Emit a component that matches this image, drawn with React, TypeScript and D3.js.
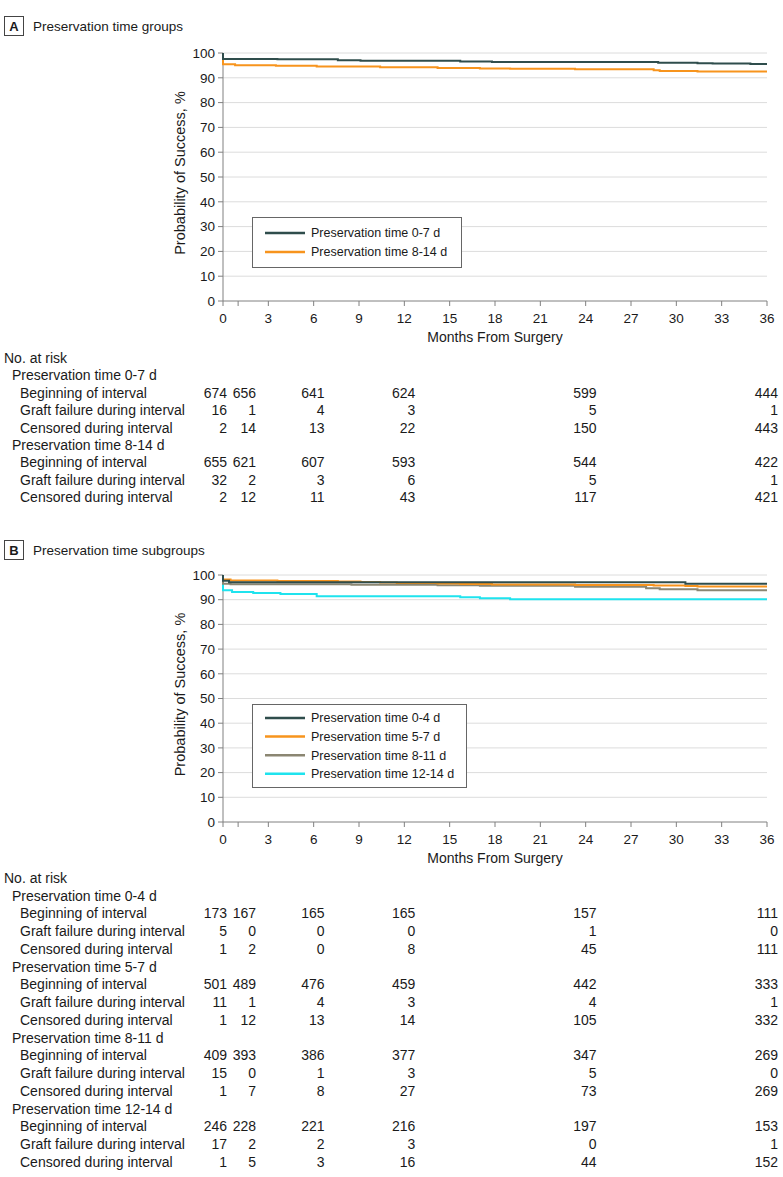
import React from 'react';
import * as d3 from 'd3';

// ---------- data ----------
const xTickValues = [0, 3, 6, 9, 12, 15, 18, 21, 24, 27, 30, 33, 36];
const xMinorTickValues = [1];
const yTickValues = [0, 10, 20, 30, 40, 50, 60, 70, 80, 90, 100];
const riskMonths = [0, 1, 6, 12, 24, 36];
const riskRowLabels = ['Beginning of interval', 'Graft failure during interval', 'Censored during interval'];

// Panel A: Kaplan-Meier steps (months, % success)
const a07Times = [0, 0, 3.6, 7.6, 9.1, 15.7, 17.8, 28.8, 31.4, 32.4, 34.9];
const a07Surv = [100, 97.6, 97.45, 97.1, 96.85, 96.6, 96.35, 96.1, 95.9, 95.75, 95.55];
const a814Times = [0, 0, 0.8, 3.5, 6.2, 10.4, 14.2, 17.0, 19.0, 23.3, 28.5, 28.9, 31.4];
const a814Surv = [100, 95.5, 95.1, 94.85, 94.6, 94.3, 94.0, 93.8, 93.6, 93.4, 93.0, 92.75, 92.5];

// Panel B
const b04Times = [0, 0, 0.4, 30.6];
const b04Surv = [100, 97.7, 97.1, 96.5];
const b57Times = [0, 0, 0.5, 3.6, 7.6, 9.1, 10.4, 11.5, 14.2, 15.7, 17.8, 23.3, 28.5, 30.6, 31.4];
const b57Surv = [100, 98.2, 97.8, 97.6, 97.4, 97.2, 97.0, 96.8, 96.6, 96.4, 96.2, 96.0, 95.7, 95.5, 95.3];
const b811Times = [0, 0, 0.5, 8.5, 14.2, 17.0, 23.3, 28.0, 28.9, 31.4];
const b811Surv = [100, 96.5, 96.3, 96.1, 95.8, 95.6, 95.2, 94.6, 94.2, 93.8];
const b1214Times = [0, 0, 0.6, 2.0, 3.8, 6.2, 15.7, 17.0, 19.0];
const b1214Surv = [100, 93.8, 93.1, 92.7, 92.3, 91.4, 91.0, 90.6, 90.2];

// Risk tables
const a07Begin = [674, 656, 641, 624, 599, 444];
const a07Fail = [16, 1, 4, 3, 5, 1];
const a07Cens = [2, 14, 13, 22, 150, 443];
const a814Begin = [655, 621, 607, 593, 544, 422];
const a814Fail = [32, 2, 3, 6, 5, 1];
const a814Cens = [2, 12, 11, 43, 117, 421];

const b04Begin = [173, 167, 165, 165, 157, 111];
const b04Fail = [5, 0, 0, 0, 1, 0];
const b04Cens = [1, 2, 0, 8, 45, 111];
const b57Begin = [501, 489, 476, 459, 442, 333];
const b57Fail = [11, 1, 4, 3, 4, 1];
const b57Cens = [1, 12, 13, 14, 105, 332];
const b811Begin = [409, 393, 386, 377, 347, 269];
const b811Fail = [15, 0, 1, 3, 5, 0];
const b811Cens = [1, 7, 8, 27, 73, 269];
const b1214Begin = [246, 228, 221, 216, 197, 153];
const b1214Fail = [17, 2, 2, 3, 0, 1];
const b1214Cens = [1, 5, 3, 16, 44, 152];

// ---------- styles ----------
const FONT = '"Liberation Sans", Arial, sans-serif';
const C_DARK = '#2f4d4c';
const C_ORANGE = '#f7941d';
const C_GREY = '#8b8672';
const C_CYAN = '#1fe3ee';
const AXIS = '#808080';
const GRID = '#dcdcdc';
const TEXT = '#1a1a1a';

type Series = { label: string; color: string; times: number[]; surv: number[] };
type RiskGroup = { label: string; rows: number[][] };

const x = d3.scaleLinear().domain([0, 36]).range([223, 767]);
const colOffsets = [4, 18, 11, 11, 11, 11];

function Panel(props: {
  letter: string;
  title: string;
  titleY: number;
  top: number;
  bottom: number;
  series: Series[];
  legend: { x: number; y: number; w: number; h: number; rowY0: number; rowStep: number };
  risk: RiskGroup[];
  riskY0: number;
  riskStep: number;
}) {
  const { letter, title, titleY, top, bottom, series, legend, risk, riskY0, riskStep } = props;
  const y = d3.scaleLinear().domain([0, 100]).range([bottom, top]);
  const line = d3
    .line<[number, number]>()
    .x((d) => x(d[0]))
    .y((d) => y(d[1]))
    .curve(d3.curveStepAfter);

  const rows: { kind: string; text: string; vals?: number[] }[] = [];
  rows.push({ kind: 'head', text: 'No. at risk' });
  risk.forEach((g) => {
    rows.push({ kind: 'group', text: g.label });
    g.rows.forEach((r, i) => rows.push({ kind: 'row', text: riskRowLabels[i], vals: r }));
  });

  return (
    <g>
      {/* title */}
      <rect x={4.5} y={titleY - 9.5} width={19} height={19} fill="#fff" stroke="#444" strokeWidth={1} />
      <text x={14} y={titleY + 5} textAnchor="middle" fontSize={13} fontWeight="bold" fill={TEXT}>
        {letter}
      </text>
      <text x={33} y={titleY + 5} fontSize={13.5} fill={TEXT}>
        {title}
      </text>

      {/* grid */}
      {yTickValues
        .filter((v) => v > 0)
        .map((v) => (
          <line key={'g' + v} x1={x(0)} x2={x(36)} y1={y(v)} y2={y(v)} stroke={GRID} strokeWidth={1} />
        ))}

      {/* axes */}
      <line x1={x(0)} x2={x(0)} y1={y(0)} y2={y(100)} stroke={AXIS} strokeWidth={1} />
      <line x1={x(0)} x2={x(36)} y1={y(0)} y2={y(0)} stroke={AXIS} strokeWidth={1} />
      {yTickValues.map((v) => (
        <g key={'yt' + v}>
          <line x1={x(0) - 5} x2={x(0)} y1={y(v)} y2={y(v)} stroke={AXIS} />
          <text x={x(0) - 8} y={y(v)} dy="0.35em" textAnchor="end" fontSize={13.5} fill={TEXT}>
            {v}
          </text>
        </g>
      ))}
      {xTickValues.concat(xMinorTickValues).map((v) => (
        <line key={'xt' + v} x1={x(v)} x2={x(v)} y1={y(0)} y2={y(0) + 5} stroke={AXIS} />
      ))}
      {xTickValues.map((v) => (
        <text key={'xl' + v} x={x(v)} y={y(0) + 22} textAnchor="middle" fontSize={13.5} fill={TEXT}>
          {v}
        </text>
      ))}
      <text x={(x(0) + x(36)) / 2} y={y(0) + 41} textAnchor="middle" fontSize={14} fill={TEXT}>
        Months From Surgery
      </text>
      <text
        transform={`translate(${180},${(top + bottom) / 2 - 4}) rotate(-90)`}
        textAnchor="middle"
        dy="0.35em"
        fontSize={14.5}
        fill={TEXT}
      >
        Probability of Success, %
      </text>

      {/* curves */}
      {series.map((s) => {
        const pts: [number, number][] = s.times.map((t, i) => [t, s.surv[i]]);
        pts.push([36, s.surv[s.surv.length - 1]]);
        return <path key={s.label} d={line(pts) || ''} fill="none" stroke={s.color} strokeWidth={2} />;
      })}

      {/* legend */}
      <rect x={legend.x + 0.5} y={legend.y + 0.5} width={legend.w} height={legend.h} fill="#fff" stroke="#666" strokeWidth={1} />
      {series
        .slice()
        .reverse()
        .map((s, i) => (
          <g key={'lg' + s.label}>
            <line
              x1={legend.x + 13}
              x2={legend.x + 53}
              y1={legend.rowY0 + i * legend.rowStep}
              y2={legend.rowY0 + i * legend.rowStep}
              stroke={s.color}
              strokeWidth={2.5}
            />
            <text x={legend.x + 59} y={legend.rowY0 + i * legend.rowStep} dy="0.35em" fontSize={12.5} fill={TEXT}>
              {s.label}
            </text>
          </g>
        ))}

      {/* risk table */}
      {rows.map((r, i) => {
        const yy = riskY0 + i * riskStep;
        const lx = r.kind === 'head' ? 4 : r.kind === 'group' ? 12 : 20;
        return (
          <g key={'r' + i}>
            <text x={lx} y={yy} dy="0.35em" fontSize={14} fill={TEXT}>
              {r.text}
            </text>
            {r.vals &&
              r.vals.map((v, j) => (
                <text key={j} x={x(riskMonths[j]) + colOffsets[j]} y={yy} dy="0.35em" textAnchor="end" fontSize={14} fill={TEXT}>
                  {v}
                </text>
              ))}
          </g>
        );
      })}
    </g>
  );
}

export default function App() {
  // series listed in draw order (bottom first); legend shows reverse
  const seriesA: Series[] = [
    { label: 'Preservation time 8-14 d', color: C_ORANGE, times: a814Times, surv: a814Surv },
    { label: 'Preservation time 0-7 d', color: C_DARK, times: a07Times, surv: a07Surv },
  ];
  const seriesB: Series[] = [
    { label: 'Preservation time 12-14 d', color: C_CYAN, times: b1214Times, surv: b1214Surv },
    { label: 'Preservation time 8-11 d', color: C_GREY, times: b811Times, surv: b811Surv },
    { label: 'Preservation time 5-7 d', color: C_ORANGE, times: b57Times, surv: b57Surv },
    { label: 'Preservation time 0-4 d', color: C_DARK, times: b04Times, surv: b04Surv },
  ];
  const riskA: RiskGroup[] = [
    { label: 'Preservation time 0-7 d', rows: [a07Begin, a07Fail, a07Cens] },
    { label: 'Preservation time 8-14 d', rows: [a814Begin, a814Fail, a814Cens] },
  ];
  const riskB: RiskGroup[] = [
    { label: 'Preservation time 0-4 d', rows: [b04Begin, b04Fail, b04Cens] },
    { label: 'Preservation time 5-7 d', rows: [b57Begin, b57Fail, b57Cens] },
    { label: 'Preservation time 8-11 d', rows: [b811Begin, b811Fail, b811Cens] },
    { label: 'Preservation time 12-14 d', rows: [b1214Begin, b1214Fail, b1214Cens] },
  ];
  return (
    <svg
      width={783}
      height={1177}
      viewBox="0 0 783 1177"
      style={{ position: 'absolute', left: 0, top: 0, background: '#fff', fontFamily: FONT }}
      fontFamily={FONT}
    >
      <rect x={0} y={0} width={783} height={1177} fill="#fff" />
      <Panel
        letter="A"
        title="Preservation time groups"
        titleY={26}
        top={53}
        bottom={301}
        series={seriesA}
        legend={{ x: 252, y: 217, w: 209, h: 50, rowY0: 233, rowStep: 19 }}
        risk={riskA}
        riskY0={358}
        riskStep={17.4}
      />
      <Panel
        letter="B"
        title="Preservation time subgroups"
        titleY={550}
        top={575}
        bottom={822}
        series={seriesB}
        legend={{ x: 252, y: 704, w: 214, h: 83, rowY0: 718, rowStep: 18.6 }}
        risk={riskB}
        riskY0={878}
        riskStep={17.75}
      />
    </svg>
  );
}
